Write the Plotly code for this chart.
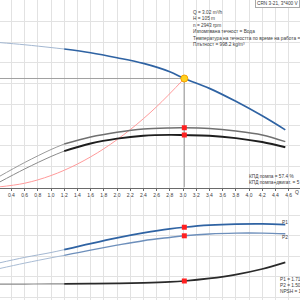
import plotly.graph_objects as go

# ---- data ----
Q = [0.2, 0.6, 1.0, 1.2, 1.6, 2.0, 2.4, 2.8, 3.02, 3.4, 3.8, 4.2, 4.55]
head = [139.7, 137.5, 134.8, 133.4, 129.8, 125.0, 119.5, 111.5, 105.0, 95.5, 83.0, 69.0, 55.5]
eff_pump = [10.0, 24.0, 36.5, 41.8, 48.6, 53.2, 56.3, 57.3, 57.4, 56.7, 54.3, 50.5, 44.1]
eff_total = [4.5, 17.8, 29.8, 35.0, 42.3, 47.0, 49.8, 50.6, 50.4, 49.8, 47.5, 43.7, 38.7]
p1 = [0.83, 0.97, 1.09, 1.16, 1.31, 1.45, 1.57, 1.67, 1.71, 1.76, 1.785, 1.79, 1.775]
p2 = [0.69, 0.83, 0.96, 1.02, 1.15, 1.27, 1.38, 1.46, 1.50, 1.545, 1.565, 1.565, 1.55]
npsh = [1.27, 1.27, 1.28, 1.29, 1.31, 1.34, 1.39, 1.48, 1.57, 1.82, 2.2, 2.75, 3.4]

sys_q = [0.2, 0.6, 1.0, 1.4, 1.8, 2.2, 2.6, 3.02]
sys_h = [0.46, 4.1, 11.5, 22.6, 37.3, 55.7, 77.8, 105.0]

op_q, op_h = 3.02, 105.0
op_eff_pump, op_eff_total = 57.4, 50.4
op_p1, op_p2, op_npsh = 1.71, 1.50, 1.57

# texts as far as the reference shows them (it is cropped at the right edge)
info_lines = [
    "Q = 3.02 m³/h",
    "H = 105 m",
    "n = 2943 rpm",
    "Изпомпвана течност = Вода",
    "Температура на течността по време на работа =",
    "Плътност = 998.2 kg/m³",
]
eff_lines = ["КПД помпа = 57.4 %", "КПД помпа+двигат. = 5"]
pow_lines = ["P1 = 1.71", "P2 = 1.50", "NPSH = 1"]
title = "CRN 3-21, 3*400 V"

FONT = "Liberation Sans, Arial, sans-serif"
TXT = "#3a3a3a"
FS = 4.75
split = 3  # index of Q = 1.2 (start of the bold range)

fig = go.Figure()

def add_curve(y, xa, ya, thin_col, thick_col, w_thin, w_thick):
    fig.add_trace(go.Scatter(x=Q[:split + 1], y=y[:split + 1], mode="lines",
                             line=dict(color=thin_col, width=w_thin, shape="spline"),
                             xaxis=xa, yaxis=ya, hoverinfo="skip"))
    fig.add_trace(go.Scatter(x=Q[split:], y=y[split:], mode="lines",
                             line=dict(color=thick_col, width=w_thick, shape="spline"),
                             xaxis=xa, yaxis=ya, hoverinfo="skip"))

# operating guide lines
fig.add_trace(go.Scatter(x=[0.2, op_q], y=[op_h, op_h], mode="lines",
                         line=dict(color="#a0a0a0", width=1), xaxis="x", yaxis="y"))
fig.add_trace(go.Scatter(x=[op_q, op_q], y=[op_h, 0], mode="lines",
                         line=dict(color="#a0a0a0", width=1), xaxis="x", yaxis="y"))

# system curve
fig.add_trace(go.Scatter(x=sys_q, y=sys_h, mode="lines",
                         line=dict(color="#ff9a9a", width=1, shape="spline"),
                         xaxis="x", yaxis="y"))

# head
add_curve(head, "x", "y", "#a3b7d1", "#2f63a3", 1, 1.7)
# efficiencies
add_curve(eff_pump, "x", "y2", "#9a9a9a", "#707070", 1, 1.5)
add_curve(eff_total, "x", "y2", "#8a8a8a", "#1e1e1e", 1, 1.9)
# powers and npsh
add_curve(p1, "x2", "y3", "#a3b7d1", "#2f63a3", 1, 1.7)
add_curve(p2, "x2", "y3", "#a9bcd4", "#6d8fbb", 1, 1.4)
add_curve(npsh, "x2", "y4", "#8a8a8a", "#2a2a2a", 1.2, 1.7)

# markers
sq = dict(symbol="square", size=5, color="#ff2020")
fig.add_trace(go.Scatter(x=[op_q], y=[op_eff_pump], mode="markers", marker=sq, xaxis="x", yaxis="y2"))
fig.add_trace(go.Scatter(x=[op_q], y=[op_eff_total], mode="markers", marker=sq, xaxis="x", yaxis="y2"))
fig.add_trace(go.Scatter(x=[op_q], y=[op_p1], mode="markers", marker=sq, xaxis="x2", yaxis="y3"))
fig.add_trace(go.Scatter(x=[op_q], y=[op_p2], mode="markers", marker=sq, xaxis="x2", yaxis="y3"))
fig.add_trace(go.Scatter(x=[op_q], y=[op_npsh], mode="markers", marker=sq, xaxis="x2", yaxis="y4"))
fig.add_trace(go.Scatter(x=[op_q], y=[op_h], mode="markers",
                         marker=dict(symbol="circle", size=7, color="#ffd21f",
                                     line=dict(color="#f5a000", width=1)),
                         xaxis="x", yaxis="y"))

xr = [0.2273, 4.7727]
grid = "#e2e2e2"
fig.update_layout(
    width=300, height=300, margin=dict(l=0, r=0, t=0, b=0),
    paper_bgcolor="white", plot_bgcolor="white", showlegend=False,
    font=dict(family=FONT, size=FS, color=TXT),
    xaxis=dict(domain=[0, 1], anchor="y", range=xr, dtick=0.2, tick0=0, tickformat=".1f",
               showgrid=True, gridcolor=grid, gridwidth=1, zeroline=False,
               showline=True, linecolor="#6a6a6a", linewidth=1,
               ticks="outside", ticklen=2, tickcolor="#6a6a6a",
               tickfont=dict(size=5, color=TXT, family=FONT)),
    yaxis=dict(domain=[0.375, 1], range=[0, 180.6], dtick=20, showgrid=True,
               gridcolor=grid, zeroline=False, showticklabels=False),
    yaxis2=dict(overlaying="y", range=[0, 180.3], showgrid=False, zeroline=False,
                showticklabels=False),
    xaxis2=dict(domain=[0, 1], anchor="y3", matches="x", range=xr, dtick=0.2, tick0=0,
                showgrid=True, gridcolor=grid, zeroline=False, showticklabels=False),
    yaxis3=dict(domain=[0, 0.35], range=[-0.0735, 2.5], dtick=0.5, showgrid=True,
                gridcolor=grid, zeroline=False, showticklabels=False),
    yaxis4=dict(overlaying="y3", range=[-0.294, 10], showgrid=False, zeroline=False,
                showticklabels=False),
)

def px(xp, yp):
    return xp / 300.0, 1 - yp / 300.0

anns = []
def text(s, xp, yp, size=FS, **kw):
    x, y = px(xp, yp)
    anns.append(dict(text=s, x=x, y=y, xref="paper", yref="paper", xanchor="left",
                     yanchor="middle", showarrow=False,
                     font=dict(size=size, color=TXT, family=FONT), **kw))

for i, s in enumerate(info_lines):
    text(s, 190.5, 12 + i * 6.5)
for i, s in enumerate(eff_lines):
    text(s, 246.5, 176.5 + i * 5.8)
for i, s in enumerate(pow_lines):
    text(s, 277.5, 279 + i * 6)
text("P1", 280, 222.5)
text("P2", 280, 237.5)
text("Q", 293, 192.3, size=5)
text(title, 255, 3.6, bgcolor="white", bordercolor="#a8a8a8", borderwidth=1, borderpad=1)

fig.update_layout(annotations=anns)
fig.write_html("out.html")
